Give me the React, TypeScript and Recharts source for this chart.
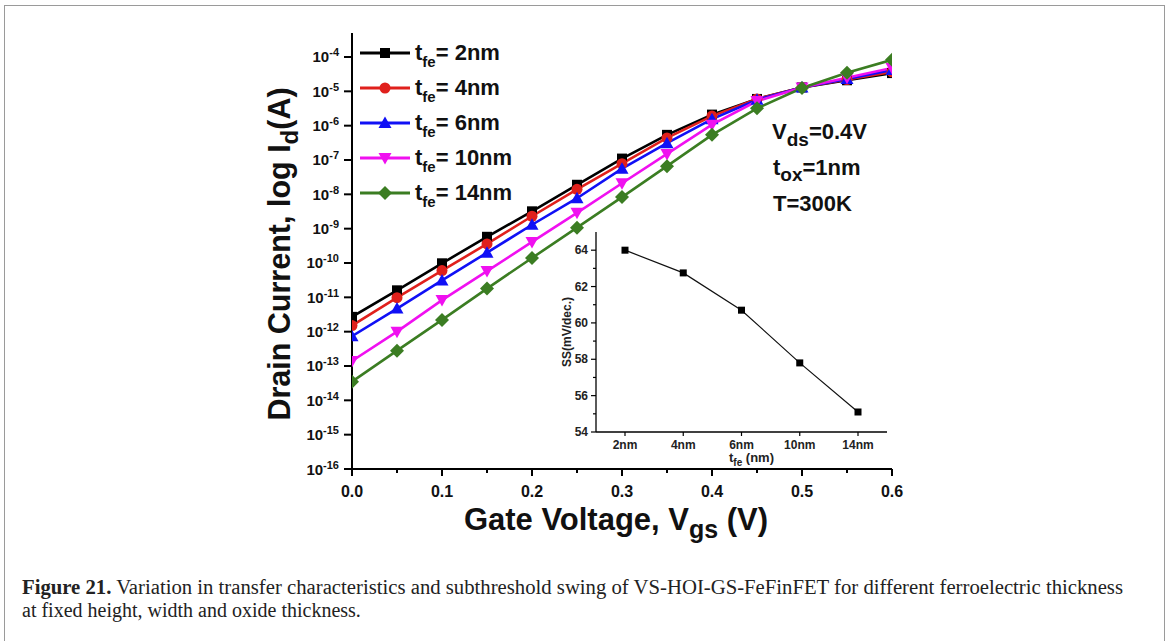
import React from 'react';
import { LineChart, Line, XAxis, YAxis } from 'recharts';

// transfer curves, Id (A) vs Vgs (V)
const vgs = [0, 0.05, 0.1, 0.15, 0.2, 0.25, 0.3, 0.35, 0.4, 0.45, 0.5, 0.55, 0.6];
const idTfe2 = [2.7e-12, 1.6e-11, 9.8e-11, 5.8e-10, 3.2e-9, 1.9e-8, 1.1e-7, 5.4e-7, 2.1e-6, 6.0e-6, 1.3e-5, 2.1e-5, 3.4e-5];
const idTfe4 = [1.5e-12, 9.8e-12, 6.0e-11, 3.6e-10, 2.3e-9, 1.4e-8, 7.8e-8, 4.4e-7, 1.9e-6, 6.0e-6, 1.3e-5, 2.2e-5, 3.7e-5];
const idTfe6 = [7.4e-13, 4.7e-12, 3.1e-11, 2.0e-10, 1.3e-9, 7.7e-9, 5.6e-8, 3.1e-7, 1.55e-6, 5.7e-6, 1.3e-5, 2.3e-5, 4.2e-5];
const idTfe10 = [1.4e-13, 1.0e-12, 8.3e-12, 5.8e-11, 4.1e-10, 2.9e-9, 2.1e-8, 1.5e-7, 1.07e-6, 5.2e-6, 1.3e-5, 2.5e-5, 4.8e-5];
const idTfe14 = [3.5e-14, 2.8e-13, 2.2e-12, 1.8e-11, 1.4e-10, 1.07e-9, 8.3e-9, 6.6e-8, 5.4e-7, 3.2e-6, 1.25e-5, 3.5e-5, 8.3e-5];

const xTicks = [0, 0.05, 0.1, 0.15, 0.2, 0.25, 0.3, 0.35, 0.4, 0.45, 0.5, 0.55, 0.6];
const yTicks = [1e-16, 1e-15, 1e-14, 1e-13, 1e-12, 1e-11, 1e-10, 1e-9, 1e-8, 1e-7, 1e-6, 1e-5, 1e-4];

// inset: subthreshold swing vs ferroelectric thickness
const ssLabels = ['2nm', '4nm', '6nm', '10nm', '14nm'];
const ssValues = [64.0, 62.75, 60.7, 57.8, 55.1];
const ssTicks = [54, 55, 56, 57, 58, 59, 60, 61, 62, 63, 64];

const FONT = '"Liberation Sans", Arial, sans-serif';

const series = [
  { key: 'tfe2', name: '2nm', color: '#000000', shape: 'square', values: idTfe2 },
  { key: 'tfe4', name: '4nm', color: '#e0201c', shape: 'circle', values: idTfe4 },
  { key: 'tfe6', name: '6nm', color: '#1010f5', shape: 'up', values: idTfe6 },
  { key: 'tfe10', name: '10nm', color: '#f010f0', shape: 'down', values: idTfe10 },
  { key: 'tfe14', name: '14nm', color: '#3b7d22', shape: 'diamond', values: idTfe14 },
];

const rows = vgs.map((v, i) => {
  const r: Record<string, number> = { vgs: v };
  series.forEach((s) => { r[s.key] = s.values[i]; });
  return r;
});

const ssRows = ssLabels.map((l, i) => ({ tfe: l, ss: ssValues[i] }));

function Marker({ cx, cy, shape, color }: { cx: number; cy: number; shape: string; color: string }) {
  if (cx == null || cy == null) return null;
  switch (shape) {
    case 'square':
      return <rect x={cx - 5} y={cy - 5} width={10} height={10} fill={color} />;
    case 'circle':
      return <circle cx={cx} cy={cy} r={5.5} fill={color} />;
    case 'up':
      return <polygon points={`${cx},${cy - 6.5} ${cx + 6.5},${cy + 5} ${cx - 6.5},${cy + 5}`} fill={color} />;
    case 'down':
      return <polygon points={`${cx},${cy + 6.5} ${cx + 6.5},${cy - 5} ${cx - 6.5},${cy - 5}`} fill={color} />;
    default:
      return <polygon points={`${cx},${cy - 7} ${cx + 7},${cy} ${cx},${cy + 7} ${cx - 7},${cy}`} fill={color} />;
  }
}

const isMajor = (v: number) => Math.abs(v * 10 - Math.round(v * 10)) < 1e-6;

const MainXTick = ({ x, y, payload }: any) => {
  const major = isMajor(payload.value);
  return (
    <g>
      <line x1={x} x2={x} y1={y} y2={y + (major ? 7 : 4)} stroke="#000" strokeWidth={2} />
      {major && (
        <text x={x} y={y + 28} textAnchor="middle" fontFamily={FONT} fontWeight="bold" fontSize={16} fill="#111">
          {payload.value.toFixed(1)}
        </text>
      )}
    </g>
  );
};

const MainYTick = ({ x, y, payload }: any) => {
  const exp = Math.round(Math.log10(payload.value));
  return (
    <g>
      <line x1={x - 8} x2={x} y1={y} y2={y} stroke="#000" strokeWidth={2} />
      <text x={x - 13} y={y + 5.5} textAnchor="end" fontFamily={FONT} fontWeight="bold" fontSize={15} fill="#111">
        10<tspan dy={-6} fontSize={11}>{exp}</tspan>
      </text>
    </g>
  );
};

const InsetXTick = ({ x, y, payload }: any) => (
  <g>
    <line x1={x} x2={x} y1={y} y2={y + 4} stroke="#000" strokeWidth={1.2} />
    <text x={x} y={y + 17} textAnchor="middle" fontFamily={FONT} fontWeight="bold" fontSize={12} fill="#222">
      {payload.value}
    </text>
  </g>
);

const InsetYTick = ({ x, y, payload }: any) => {
  const major = payload.value % 2 === 0;
  return (
    <g>
      <line x1={x - (major ? 5 : 3)} x2={x} y1={y} y2={y} stroke="#000" strokeWidth={1.2} />
      {major && (
        <text x={x - 8} y={y + 4} textAnchor="end" fontFamily={FONT} fontWeight="bold" fontSize={12} fill="#222">
          {payload.value}
        </text>
      )}
    </g>
  );
};

const MainXLabel = ({ viewBox }: any) => (
  <text x={viewBox.x + viewBox.width / 2 - 6} y={viewBox.y + 61} textAnchor="middle" fontFamily={FONT} fontWeight="bold" fontSize={31} fill="#111">
    Gate Voltage, V<tspan dy={8} fontSize={25}>gs</tspan><tspan dy={-8}> (V)</tspan>
  </text>
);

const MainYLabel = ({ viewBox }: any) => {
  const cy = viewBox.y + viewBox.height / 2 + 3;
  return (
    <text transform={`translate(${viewBox.x - 2}, ${cy}) rotate(-90)`} textAnchor="middle" fontFamily={FONT} fontWeight="bold" fontSize={30.5} fill="#111">
      Drain Current, log I<tspan dy={8} fontSize={24}>d</tspan><tspan dy={-8}>(A)</tspan>
    </text>
  );
};

const InsetXLabel = ({ viewBox }: any) => (
  <text x={viewBox.x + viewBox.width / 2 + 10} y={viewBox.y + 30} textAnchor="middle" fontFamily={FONT} fontWeight="bold" fontSize={13} fill="#222">
    t<tspan dy={4} fontSize={10}>fe</tspan><tspan dy={-4}> (nm)</tspan>
  </text>
);

const InsetYLabel = ({ viewBox }: any) => (
  <text transform={`translate(${viewBox.x + 31}, ${viewBox.y + viewBox.height / 2}) rotate(-90)`} textAnchor="middle" fontFamily={FONT} fontWeight="bold" fontSize={12} fill="#222">
    SS(mV/dec.)
  </text>
);

export default function App() {
  return (
    <div style={{ position: 'absolute', left: 0, top: 0, width: 1170, height: 641, background: '#fff', overflow: 'hidden' }}>
      <div style={{ position: 'absolute', left: 4, top: 5, width: 1159, height: 700, border: '1.5px solid #9a9a9a' }} />

      <div style={{ position: 'absolute', left: 0, top: 0 }}>
        <LineChart width={1170} height={641} data={rows} margin={{ top: 33, right: 278, bottom: 112, left: 292 }}>
          <XAxis
            dataKey="vgs"
            type="number"
            domain={[0, 0.6]}
            ticks={xTicks}
            interval={0}
            tickSize={0}
            tickMargin={0}
            tick={(p: any) => <MainXTick {...p} />}
            axisLine={{ stroke: '#000', strokeWidth: 2 }}
            height={60}
            allowDataOverflow
            label={(p: any) => <MainXLabel {...p} />}
          />
          <XAxis xAxisId="top" orientation="top" dataKey="vgs" type="number" domain={[0, 0.6]} tick={false} tickLine={false} height={0} axisLine={{ stroke: '#000', strokeWidth: 2 }} />
          <YAxis
            type="number"
            scale="log"
            domain={[1e-16, 5e-4]}
            ticks={yTicks}
            interval={0}
            tickSize={0}
            tickMargin={0}
            tick={(p: any) => <MainYTick {...p} />}
            axisLine={{ stroke: '#000', strokeWidth: 2 }}
            width={60}
            allowDataOverflow
            label={(p: any) => <MainYLabel {...p} />}
          />
          <YAxis yAxisId="right" orientation="right" type="number" scale="log" domain={[1e-16, 5e-4]} tick={false} tickLine={false} width={0} axisLine={{ stroke: '#000', strokeWidth: 2 }} />
          {series.map((s) => (
            <Line
              key={s.key}
              dataKey={s.key}
              stroke={s.color}
              strokeWidth={2.6}
              isAnimationActive={false}
              dot={(p: any) => <Marker key={`${s.key}-${p.index}`} cx={p.cx} cy={p.cy} shape={s.shape} color={s.color} />}
            />
          ))}
        </LineChart>
      </div>

      <div style={{ position: 'absolute', left: 540, top: 222 }}>
        <LineChart width={360} height={260} data={ssRows} margin={{ top: 10, right: 13, bottom: 10, left: 0 }}>
          <XAxis
            dataKey="tfe"
            type="category"
            interval={0}
            padding={{ left: 29, right: 29 }}
            tickSize={0}
            tickMargin={0}
            tick={(p: any) => <InsetXTick {...p} />}
            axisLine={{ stroke: '#000', strokeWidth: 1.3 }}
            height={40}
            label={(p: any) => <InsetXLabel {...p} />}
          />
          <XAxis xAxisId="top" orientation="top" dataKey="tfe" tick={false} tickLine={false} height={0} axisLine={{ stroke: '#000', strokeWidth: 1.3 }} />
          <YAxis
            type="number"
            domain={[54, 65]}
            ticks={ssTicks}
            interval={0}
            tickSize={0}
            tickMargin={0}
            tick={(p: any) => <InsetYTick {...p} />}
            axisLine={{ stroke: '#000', strokeWidth: 1.3 }}
            width={56}
            allowDataOverflow
            label={(p: any) => <InsetYLabel {...p} />}
          />
          <YAxis yAxisId="right" orientation="right" type="number" domain={[54, 65]} tick={false} tickLine={false} width={0} axisLine={{ stroke: '#000', strokeWidth: 1.3 }} />
          <Line
            dataKey="ss"
            stroke="#111"
            strokeWidth={1.2}
            isAnimationActive={false}
            dot={(p: any) => <rect key={`ss-${p.index}`} x={p.cx - 3.5} y={p.cy - 3.5} width={7} height={7} fill="#000" />}
          />
        </LineChart>
      </div>

      <svg width={1170} height={641} style={{ position: 'absolute', left: 0, top: 0, pointerEvents: 'none' }}>
        {series.map((s, i) => {
          const cy = 53 + i * 35;
          return (
            <g key={s.key}>
              <line x1={360} x2={410} y1={cy} y2={cy} stroke={s.color} strokeWidth={3} />
              <Marker cx={385} cy={cy} shape={s.shape} color={s.color} />
              <text x={415} y={cy + 7} fontFamily={FONT} fontWeight="bold" fontSize={22} fill="#111">
                t<tspan dy={7} fontSize={15}>fe</tspan><tspan dy={-7}>= {s.name}</tspan>
              </text>
            </g>
          );
        })}
        <g fontFamily={FONT} fontWeight="bold" fontSize={22} fill="#111">
          <text x={772} y={139}>V<tspan dy={7} fontSize={19}>ds</tspan><tspan dy={-7}>=0.4V</tspan></text>
          <text x={773} y={175}>t<tspan dy={6} fontSize={19}>ox</tspan><tspan dy={-6}>=1nm</tspan></text>
          <text x={773} y={211}>T=300K</text>
        </g>
        <g fontFamily='"Liberation Serif", "Times New Roman", serif' fontSize={20} fill="#222">
          <text x={22} y={594} textLength={1101} lengthAdjust="spacingAndGlyphs">
            <tspan fontWeight="bold">Figure 21.</tspan> Variation in transfer characteristics and subthreshold swing of VS-HOI-GS-FeFinFET for different ferroelectric thickness
          </text>
          <text x={22} y={617}>at fixed height, width and oxide thickness.</text>
        </g>
      </svg>
    </div>
  );
}
